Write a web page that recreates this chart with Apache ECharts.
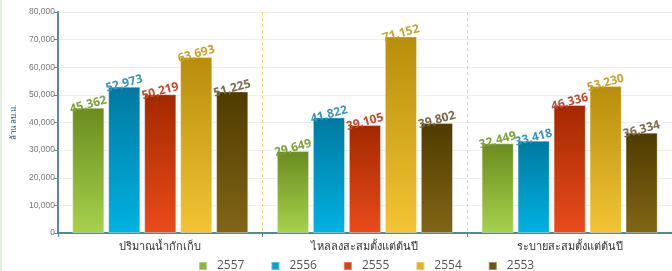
<!DOCTYPE html>
<html>
<head>
<meta charset="utf-8">
<script src="https://cdn.jsdelivr.net/npm/echarts@6/dist/echarts.min.js"></script>
<style>
html,body{margin:0;padding:0;background:#fff;}
#c{width:672px;height:271px;box-sizing:border-box;border-left:2px solid #dff2df;}
</style>
</head>
<body>
<div id="c"></div>
<script>
const categories = ['ปริมาณน้ำกักเก็บ', 'ไหลลงสะสมตั้งแต่ต้นปี', 'ระบายสะสมตั้งแต่ต้นปี'];
const seriesNames = ['2557', '2556', '2555', '2554', '2553'];
const v2557 = [45362, 29649, 32449];
const v2556 = [52973, 41822, 33418];
const v2555 = [50219, 39105, 46336];
const v2554 = [63693, 71152, 53230];
const v2553 = [51225, 39802, 36334];
const yTicks = [0, 10000, 20000, 30000, 40000, 50000, 60000, 70000, 80000];
const yAxisName = 'ล้าน ลบ.ม.';

const values = [v2557, v2556, v2555, v2554, v2553];
const grads = [
  ['#6a8c1f', '#a6d24c'],
  ['#0079a0', '#00b2e2'],
  ['#a32800', '#ea4c1a'],
  ['#b78e0b', '#f3c434'],
  ['#4f3b00', '#826616']
];
const labelColors = ['#7fa23a', '#3596bf', '#c4492d', '#c9a42c', '#7b6a48'];
const legendColors = ['#8bb83a', '#0aa0cf', '#d8401a', '#e3b126', '#6a5410'];

const chart = echarts.init(document.getElementById('c'), null, {renderer: 'canvas'});
const fmt = v => v.toLocaleString('en-US');
chart.setOption({
  animation: false,
  grid: {left: 46, right: 0, top: 12, bottom: 38, containLabel: false},
  legend: {
    data: seriesNames.map((n, i) => ({name: n, itemStyle: {color: legendColors[i]}})),
    top: 260, left: 196, padding: 0,
    itemWidth: 8, itemHeight: 8, itemGap: 26,
    icon: 'rect',
    textStyle: {fontSize: 12, color: '#555', fontFamily: 'Open Sans', padding: [0, 0, 0, 5]}
  },
  xAxis: {
    type: 'category', data: categories,
    axisLine: {lineStyle: {color: '#4a8f96', width: 2}},
    axisTick: {show: true, length: 4, lineStyle: {color: '#4a8f96'}},
    axisLabel: {fontSize: 11, color: '#333', margin: 8},
    splitLine: {show: true, interval: 0, lineStyle: {color: '#f5cf70', type: [3, 3], width: 1}}
  },
  yAxis: {
    type: 'value', min: yTicks[0], max: yTicks[yTicks.length - 1], interval: yTicks[1] - yTicks[0],
    name: yAxisName, nameLocation: 'middle', nameGap: 34, nameRotate: 90,
    nameTextStyle: {fontSize: 8, color: '#2a5a70'},
    axisLine: {show: true, lineStyle: {color: '#5b8c9c', width: 2}},
    axisTick: {show: true, length: 4, lineStyle: {color: '#5b8c9c'}},
    axisLabel: {fontSize: 8.5, color: '#777', margin: 3, formatter: v => fmt(v), fontFamily: 'Liberation Sans'},
    splitLine: {show: true, lineStyle: {color: '#efefef'}}
  },
  series: seriesNames.map((n, i) => ({
    name: n, type: 'bar', data: values[i],
    barGap: '12%', barCategoryGap: '14%',
    itemStyle: {
      color: new echarts.graphic.LinearGradient(0, 0, 0, 1, [
        {offset: 0, color: grads[i][0]}, {offset: 1, color: grads[i][1]}
      ]),
      borderColor: 'rgba(255,255,255,0.35)', borderWidth: 1
    },
    label: {
      show: true, position: 'top', rotate: 15, distance: 3,
      formatter: p => fmt(p.value),
      color: labelColors[i], fontSize: 12, fontWeight: 'bold', fontFamily: 'Open Sans',
      align: 'center', verticalAlign: 'middle'
    }
  }))
});
</script>
</body>
</html>
